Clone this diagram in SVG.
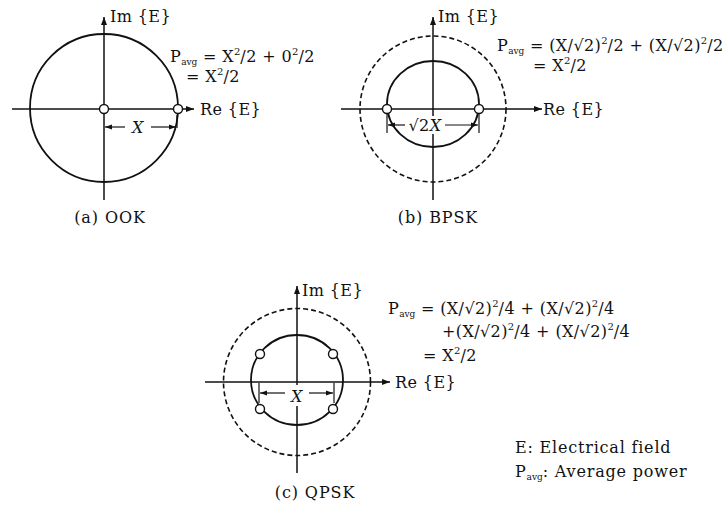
<svg xmlns="http://www.w3.org/2000/svg" width="728" height="507" viewBox="0 0 728 507">
<defs>
<marker id="ah" markerWidth="9" markerHeight="7" refX="8" refY="3.5" orient="auto" markerUnits="userSpaceOnUse"><path d="M0,0.5 L8,3.5 L0,6.5 z" fill="#111"/></marker>
<marker id="dh" markerWidth="8" markerHeight="6" refX="7" refY="3" orient="auto" markerUnits="userSpaceOnUse"><path d="M0,0.5 L7,3 L0,5.5 z" fill="#111"/></marker>
</defs>
<style>
.ax{stroke:#111;stroke-width:1.5;fill:none}
.c{stroke:#111;stroke-width:1.8;fill:none}
.d{stroke:#111;stroke-width:1.6;fill:none;stroke-dasharray:5 3}
.pt{stroke:#111;stroke-width:1.4;fill:#fff}
.dim{stroke:#111;stroke-width:1.2;fill:none}
.bg{fill:#fff;stroke:none}
text{font-family:"DejaVu Serif","Liberation Serif",serif;font-size:16px;fill:#111;letter-spacing:0.4px}
.lg{letter-spacing:0.8px}
.cap{letter-spacing:0.9px}
.sub{font-size:9px;letter-spacing:0}
.sup{font-size:10px;letter-spacing:0}
.it{font-style:italic}
.mid{text-anchor:middle}
</style>

<!-- Panel (a) OOK -->
<g id="panel-a">
  <g id="a-axes">
    <line class="ax" x1="104" y1="200" x2="104" y2="17" marker-end="url(#ah)"/>
    <line class="ax" x1="12" y1="109" x2="194" y2="109" marker-end="url(#ah)"/>
  </g>
  <g id="a-circle"><circle class="c" cx="104" cy="108" r="74"/></g>
  <g id="a-dim">
    <line class="dim" x1="177" y1="115" x2="177" y2="128"/>
    <line class="dim" x1="125" y1="127" x2="105" y2="127" marker-end="url(#dh)"/>
    <line class="dim" x1="151" y1="127" x2="176" y2="127" marker-end="url(#dh)"/>
    <text class="mid it" x="138" y="133">X</text>
  </g>
  <g id="a-p0"><circle class="pt" cx="104" cy="109" r="4.5"/></g>
  <g id="a-p1"><circle class="pt" cx="178" cy="109" r="4.5"/></g>
  <text x="110" y="22">Im {E}</text>
  <text x="200" y="115">Re {E}</text>
  <text x="170" y="62">P<tspan class="sub" dy="3">avg</tspan><tspan dy="-3"> = X</tspan><tspan class="sup" dy="-7">2</tspan><tspan dy="7">/2 + 0</tspan><tspan class="sup" dy="-7">2</tspan><tspan dy="7">/2</tspan></text>
  <text x="186" y="82">= X<tspan class="sup" dy="-7">2</tspan><tspan dy="7">/2</tspan></text>
  <text class="mid cap" x="110" y="223">(a) OOK</text>
</g>

<!-- Panel (b) BPSK -->
<g id="panel-b">
  <g id="b-axes">
    <line class="ax" x1="433" y1="200" x2="433" y2="17" marker-end="url(#ah)"/>
    <line class="ax" x1="341" y1="109" x2="542" y2="109" marker-end="url(#ah)"/>
  </g>
  <g id="b-outer"><circle class="d" cx="433" cy="109" r="73"/></g>
  <g id="b-inner"><ellipse class="c" cx="433" cy="104" rx="46" ry="43"/></g>
  <g id="b-dim">
    <line class="dim" x1="387" y1="112" x2="387" y2="133"/>
    <line class="dim" x1="479" y1="112" x2="479" y2="133"/>
    <line class="dim" x1="405" y1="125" x2="388" y2="125" marker-end="url(#dh)"/>
    <line class="dim" x1="445" y1="125" x2="478" y2="125" marker-end="url(#dh)"/>
    <rect class="bg" x="406" y="116" width="38" height="18"/>
    <text class="mid" x="425" y="131">√2<tspan class="it">X</tspan></text>
  </g>
  <g id="b-p0"><circle class="pt" cx="387" cy="109" r="4.5"/></g>
  <g id="b-p1"><circle class="pt" cx="479" cy="109" r="4.5"/></g>
  <text x="438" y="22">Im {E}</text>
  <text x="543" y="115">Re {E}</text>
  <text x="497" y="51">P<tspan class="sub" dy="3">avg</tspan><tspan dy="-3"> = (X/√2)</tspan><tspan class="sup" dy="-7">2</tspan><tspan dy="7">/2 + (X/√2)</tspan><tspan class="sup" dy="-7">2</tspan><tspan dy="7">/2</tspan></text>
  <text x="533" y="71">= X<tspan class="sup" dy="-7">2</tspan><tspan dy="7">/2</tspan></text>
  <text class="mid cap" x="438" y="223">(b) BPSK</text>
</g>

<!-- Panel (c) QPSK -->
<g id="panel-c">
  <g id="c-axes">
    <line class="ax" x1="297" y1="473" x2="297" y2="286" marker-end="url(#ah)"/>
    <line class="ax" x1="205" y1="382" x2="390" y2="382" marker-end="url(#ah)"/>
  </g>
  <g id="c-outer"><circle class="d" cx="297" cy="382" r="73.5"/></g>
  <g id="c-inner"><ellipse class="c" cx="297" cy="380" rx="46" ry="45"/></g>
  <g id="c-dim">
    <line class="dim" x1="259" y1="383" x2="259" y2="403"/>
    <line class="dim" x1="334" y1="383" x2="334" y2="403"/>
    <line class="dim" x1="285" y1="393" x2="260" y2="393" marker-end="url(#dh)"/>
    <line class="dim" x1="309" y1="393" x2="333" y2="393" marker-end="url(#dh)"/>
    <rect class="bg" x="288" y="385" width="18" height="21"/>
    <text class="mid it" x="297" y="402">X</text>
  </g>
  <g id="c-p0"><circle class="pt" cx="260" cy="354" r="4.5"/></g>
  <g id="c-p1"><circle class="pt" cx="333" cy="354" r="4.5"/></g>
  <g id="c-p2"><circle class="pt" cx="260" cy="409" r="4.5"/></g>
  <g id="c-p3"><circle class="pt" cx="333" cy="409" r="4.5"/></g>
  <text x="302" y="296">Im {E}</text>
  <text x="395" y="388">Re {E}</text>
  <text x="388" y="314">P<tspan class="sub" dy="3">avg</tspan><tspan dy="-3"> = (X/√2)</tspan><tspan class="sup" dy="-7">2</tspan><tspan dy="7">/4 + (X/√2)</tspan><tspan class="sup" dy="-7">2</tspan><tspan dy="7">/4</tspan></text>
  <text x="442" y="337">+(X/√2)<tspan class="sup" dy="-7">2</tspan><tspan dy="7">/4 + (X/√2)</tspan><tspan class="sup" dy="-7">2</tspan><tspan dy="7">/4</tspan></text>
  <text x="423" y="361">= X<tspan class="sup" dy="-7">2</tspan><tspan dy="7">/2</tspan></text>
  <text class="mid cap" x="315" y="498">(c) QPSK</text>
</g>

<g id="legend">
  <text class="lg" x="515" y="453">E: Electrical field</text>
  <text class="lg" x="515" y="477">P<tspan class="sub" dy="3">avg</tspan><tspan dy="-3">: Average power</tspan></text>
</g>
</svg>
